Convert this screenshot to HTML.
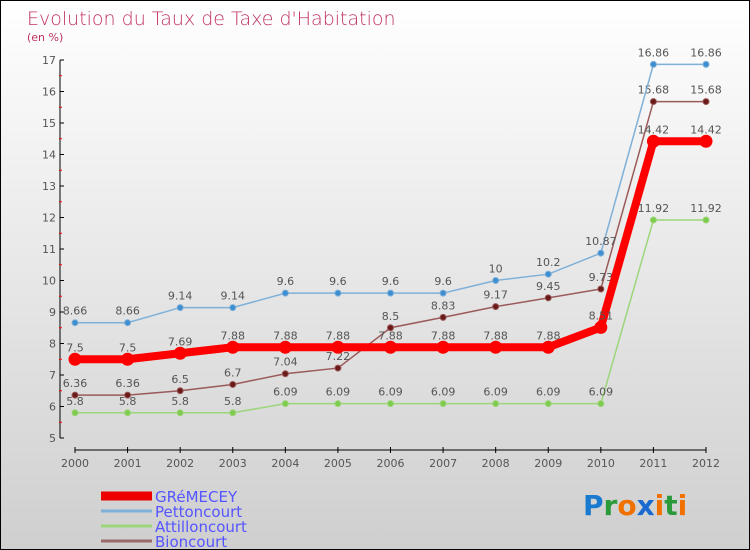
<!DOCTYPE html>
<html><head><meta charset="utf-8"><style>
body{margin:0}
#c{width:748px;height:548px;border:1px solid #000;background:linear-gradient(#fff,#cfcfcf);position:relative;overflow:hidden;font-family:"DejaVu Sans","Liberation Sans",sans-serif}
svg text{font-family:"DejaVu Sans","Liberation Sans",sans-serif}
</style></head><body>
<div id="c">
<svg id="s" width="748" height="548">
<text x="26" y="24" font-size="19" fill="#c0335f" style="font-weight:300">Evolution du Taux de Taxe d'Habitation</text>
<text x="26" y="40" font-size="11" fill="#c0335f">(en %)</text>
</svg>
</div>
<script>
const years=[2000,2001,2002,2003,2004,2005,2006,2007,2008,2009,2010,2011,2012];
const yTicks=[5,6,7,8,9,10,11,12,13,14,15,16,17];
const gremecey=[7.5,7.5,7.69,7.88,7.88,7.88,7.88,7.88,7.88,7.88,8.51,14.42,14.42];
const pettoncourt=[8.66,8.66,9.14,9.14,9.6,9.6,9.6,9.6,10,10.2,10.87,16.86,16.86];
const attilloncourt=[5.8,5.8,5.8,5.8,6.09,6.09,6.09,6.09,6.09,6.09,6.09,11.92,11.92];
const bioncourt=[6.36,6.36,6.5,6.7,7.04,7.22,8.5,8.83,9.17,9.45,9.73,15.68,15.68];
const seriesNames=["GRéMECEY","Pettoncourt","Attilloncourt","Bioncourt"];
const s=document.getElementById('s'),NS='http://www.w3.org/2000/svg';
function el(t,a,p){const e=document.createElementNS(NS,t);for(const k in a)e.setAttribute(k,a[k]);(p||s).appendChild(e);return e;}
const xS=i=>74+i*(631/(years.length-1));
const yS=v=>437-(v-5)*31.5;
// y axis
let a=el('line',{x1:59,y1:yS(17),x2:59,y2:yS(5),stroke:'#000'});

yTicks.forEach(v=>{
 let t=el('line',{x1:59,y1:yS(v),x2:63,y2:yS(v),stroke:'#000'});
 
 if(v<17){let m=el('line',{x1:58,y1:yS(v+0.5),x2:61,y2:yS(v+0.5),stroke:'#f00'});
 }
 let l=el('text',{x:55,y:yS(v)+4,'font-size':11,fill:'#555','text-anchor':'end'});l.textContent=v;
 
});
let xa=el('line',{x1:xS(0),y1:449,x2:xS(12),y2:449,stroke:'#000'});

years.forEach((y,i)=>{
 let t=el('line',{x1:xS(i),y1:446,x2:xS(i),y2:452,stroke:'#000'});
 
 let l=el('text',{x:xS(i),y:466,'font-size':11,fill:'#555','text-anchor':'middle'});l.textContent=y;
 
});
function series(d,color,dot,w,r,name){
 let p=el('polyline',{points:d.map((v,i)=>xS(i)+','+yS(v)).join(' '),fill:'none',stroke:color,'stroke-width':w});
 
 d.forEach((v,i)=>{
  let c=el('circle',{cx:xS(i),cy:yS(v),r:r,fill:dot,stroke:color});
  
  let l=el('text',{x:xS(i),y:yS(v)-8,'font-size':11,fill:'#555','text-anchor':'middle'});l.textContent=v;
  
 });
}
series(attilloncourt,'#9cd67a','#7ecb4f',1.5,3,'attilloncourt');
series(bioncourt,'#9b5a5a','#6b1a1a',1.5,3,'bioncourt');
series(pettoncourt,'#7fb0d8','#3d8ed0',1.5,3,'pettoncourt');
series(gremecey,'#f00','#f00',8,6,'gremecey');
const lc=['#e00','#7fb0d8','#9cd67a','#9b6a6a'],lw=[9,3,3,3];
seriesNames.forEach((n,i)=>{
 let ly=495+i*15;
 let l=el('line',{x1:100,y1:ly,x2:151,y2:ly,stroke:lc[i],'stroke-width':lw[i]});
 
 let t=el('text',{x:154,y:ly+6,'font-size':15,fill:'#55f'});t.textContent=n;
 
});
const logo=el('text',{x:582,y:514,'font-size':28,'font-weight':'bold'});

[['P','#1a7ad0'],['r','#2a9a3a'],['o','#f07000'],['x','#1a6ad0'],['i','#f07000'],['t','#2a9a3a'],['i','#f07000']].forEach(([ch,c])=>{let t=el('tspan',{fill:c},logo);t.textContent=ch;});
</script>
</body></html>
